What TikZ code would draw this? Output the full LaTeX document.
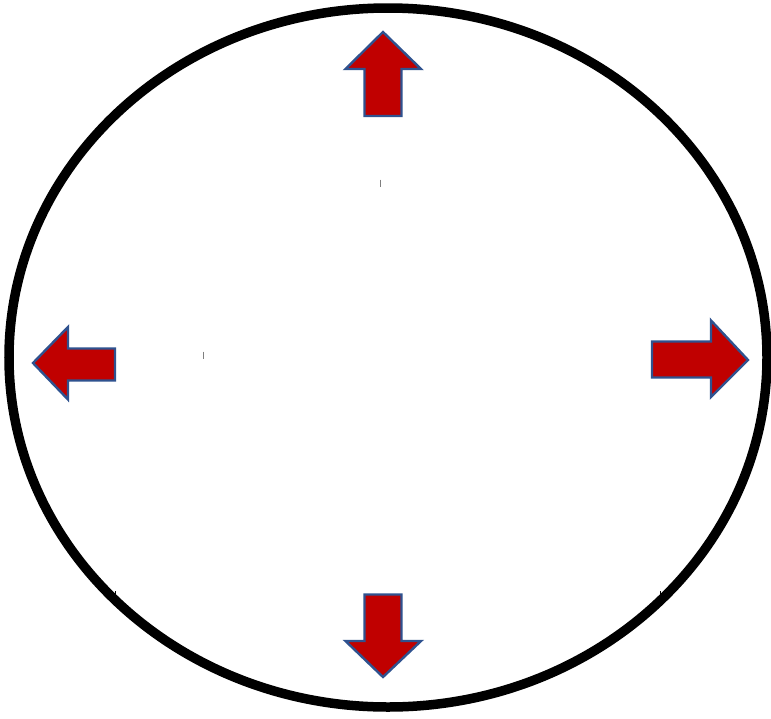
\documentclass[tikz,border=0pt]{standalone}
\usepackage{xcolor}
\definecolor{arrowred}{HTML}{C00000}
\definecolor{arrowedge}{HTML}{2F528F}
\definecolor{tickgray}{HTML}{7F7F7F}
\begin{document}
\begin{tikzpicture}[x=1pt,y=-1pt,
  bigarrow/.style={fill=arrowred,draw=arrowedge,line width=2.4pt,line join=miter},
  ring/.style={draw=black,line width=9.5pt},
  tickmark/.style={draw=tickgray,line width=1pt}]
\useasboundingbox[fill=white] (0,0) rectangle (771,718);
% ellipse
\draw[ring] (388,357.5) ellipse [x radius=379, y radius=349.5];
% up arrow
\draw[bigarrow] (383,32) -- (421,69) -- (401.5,69) -- (401.5,116) -- (364.5,116) -- (364.5,69) -- (345.5,69) -- cycle;
% down arrow
\draw[bigarrow] (383,677) -- (421,641) -- (401.5,641) -- (401.5,594.5) -- (364.5,594.5) -- (364.5,641) -- (345.5,641) -- cycle;
% right arrow
\draw[bigarrow] (748,360) -- (711,320.5) -- (711,341.5) -- (652,341.5) -- (652,377.5) -- (711,377.5) -- (711,397) -- cycle;
% left arrow
\draw[bigarrow] (33,363) -- (68,327) -- (68,348.5) -- (115,348.5) -- (115,380.5) -- (68,380.5) -- (68,399.5) -- cycle;
% small marks
\draw[tickmark] (380.7,179.5) -- (380.7,187);
\draw[tickmark] (203.3,351.5) -- (203.3,359);
\draw[draw=black,line width=1.2pt] (115.7,591) -- (115.7,598);
\draw[draw=black,line width=1.2pt] (660.3,591) -- (660.3,598);
\end{tikzpicture}
\end{document}
